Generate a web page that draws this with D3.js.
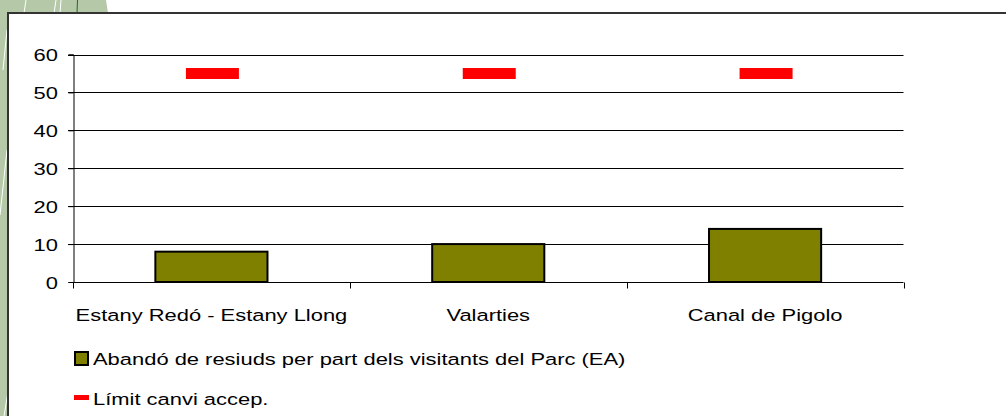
<!DOCTYPE html>
<html>
<head>
<meta charset="utf-8">
<script src="https://cdn.jsdelivr.net/npm/d3@7"></script>
<style>
  html, body { margin: 0; padding: 0; background: #fff; }
  svg { display: block; }
  text { font-family: "Liberation Sans", Arial, sans-serif; fill: #000; }
</style>
</head>
<body>
<svg id="chart" width="1006" height="416"></svg>
<script>
const categories = ["Estany Redó - Estany Llong", "Valarties", "Canal de Pigolo"];
const barValues = [8, 10, 14];
const limitValues = [55, 55, 55];
const yTicks = [0, 10, 20, 30, 40, 50, 60];
const seriesNames = ["Abandó de resiuds per part dels visitants del Parc (EA)", "Límit canvi accep."];

const svg = d3.select("#chart");
const W = 1006, H = 416;
const FS = 17, SX = 1.29; // the source picture is stretched horizontally

// decorative background (left/top corner)
const sage = "#b5c9a9";
svg.append("rect").attr("x", 0).attr("y", 0).attr("width", 8).attr("height", H).attr("fill", sage);
svg.append("path").attr("d", "M0,0 L106,0 L108,13 L0,13 Z").attr("fill", sage);
const deco = svg.append("g");
deco.append("line").attr("x1", 26).attr("y1", 0).attr("x2", 24).attr("y2", 13).attr("stroke", "#fff");
deco.append("line").attr("x1", 56).attr("y1", 0).attr("x2", 54).attr("y2", 13).attr("stroke", "#fff");
deco.append("line").attr("x1", 61).attr("y1", 0).attr("x2", 60).attr("y2", 13).attr("stroke", "#fff");
deco.append("line").attr("x1", 77.5).attr("y1", 0).attr("x2", 77).attr("y2", 13).attr("stroke", "#1f6b1f");
deco.append("line").attr("x1", 7).attr("y1", 150).attr("x2", 0).attr("y2", 215).attr("stroke", "#fff");
deco.append("line").attr("x1", 7).attr("y1", 30).attr("x2", 3).attr("y2", 70).attr("stroke", "#fff");
deco.append("line").attr("x1", 8).attr("y1", 392).attr("x2", 4).attr("y2", 416).attr("stroke", "#fff");

// chart frame
svg.append("rect").attr("x", 8).attr("y", 13).attr("width", W).attr("height", H)
  .attr("fill", "#fff").attr("stroke", "#333").attr("stroke-width", 2);

const x0 = 73, x1 = 903.5, yTop = 54.5, yBot = 282;
const x = d3.scaleBand().domain(categories).range([x0, x1]).paddingInner(0).paddingOuter(0);
const y = d3.scaleLinear().domain([0, 60]).range([yBot, yTop]);

function stretched(g, tx, ty, anchor, str) {
  return g.append("text")
    .attr("transform", `translate(${tx},${ty}) scale(${SX},1)`)
    .attr("text-anchor", anchor).attr("font-size", FS).text(str);
}

// gridlines
svg.append("g").selectAll("line").data(yTicks.filter(d => d > 0)).join("line")
  .attr("x1", x0 - 5).attr("x2", x1)
  .attr("y1", d => Math.round(y(d)) + 0.5).attr("y2", d => Math.round(y(d)) + 0.5)
  .attr("stroke", "#000").attr("stroke-width", 1);

// y axis
const yAxis = svg.append("g").attr("transform", `translate(${x0 + 0.5},0)`)
  .call(d3.axisLeft(y).tickValues(yTicks).tickSize(5).tickFormat(d3.format("d")));
yAxis.select(".domain").attr("stroke", "#000");
yAxis.selectAll(".tick line").attr("stroke", "#000");
yAxis.selectAll(".tick text")
  .attr("x", null).attr("dy", null)
  .attr("transform", `translate(-15.5,6) scale(${SX},1)`)
  .attr("font-size", FS).attr("font-family", "Liberation Sans, Arial, sans-serif").attr("fill", "#000");

// x axis
const xAxisG = svg.append("g").attr("transform", `translate(0,${yBot + 0.5})`);
xAxisG.append("line").attr("x1", x0).attr("x2", x1).attr("y1", 0).attr("y2", 0).attr("stroke", "#000");
const bounds = categories.map(c => x(c)).concat([x1]);
xAxisG.selectAll("line.tk").data(bounds).join("line").attr("class", "tk")
  .attr("x1", d => Math.round(d) + 0.5).attr("x2", d => Math.round(d) + 0.5)
  .attr("y1", 0).attr("y2", 6).attr("stroke", "#000");
categories.forEach(c => stretched(xAxisG, x(c) + x.bandwidth() / 2, 38, "middle", c));

// bars
const barW = x.bandwidth() * 0.405;
svg.append("g").selectAll("rect").data(barValues).join("rect")
  .attr("x", (d, i) => x(categories[i]) + x.bandwidth() / 2 - barW / 2)
  .attr("y", d => y(d))
  .attr("width", barW)
  .attr("height", d => yBot - y(d))
  .attr("fill", "#808000").attr("stroke", "#000").attr("stroke-width", 2);

// limit markers
const mW = 53;
svg.append("g").selectAll("line").data(limitValues).join("line")
  .attr("x1", (d, i) => x(categories[i]) + x.bandwidth() / 2 - mW / 2 + 1)
  .attr("x2", (d, i) => x(categories[i]) + x.bandwidth() / 2 + mW / 2 + 1)
  .attr("y1", d => y(d)).attr("y2", d => y(d))
  .attr("stroke", "#ff0000").attr("stroke-width", 11);

// legend
const lg = svg.append("g");
lg.append("rect").attr("x", 75).attr("y", 352).attr("width", 13).attr("height", 13)
  .attr("fill", "#808000").attr("stroke", "#000").attr("stroke-width", 2);
stretched(lg, 93, 365, "start", seriesNames[0]);
lg.append("line").attr("x1", 74).attr("x2", 89).attr("y1", 397.5).attr("y2", 397.5)
  .attr("stroke", "#ff0000").attr("stroke-width", 5);
stretched(lg, 93, 405, "start", seriesNames[1]);
</script>
</body>
</html>
